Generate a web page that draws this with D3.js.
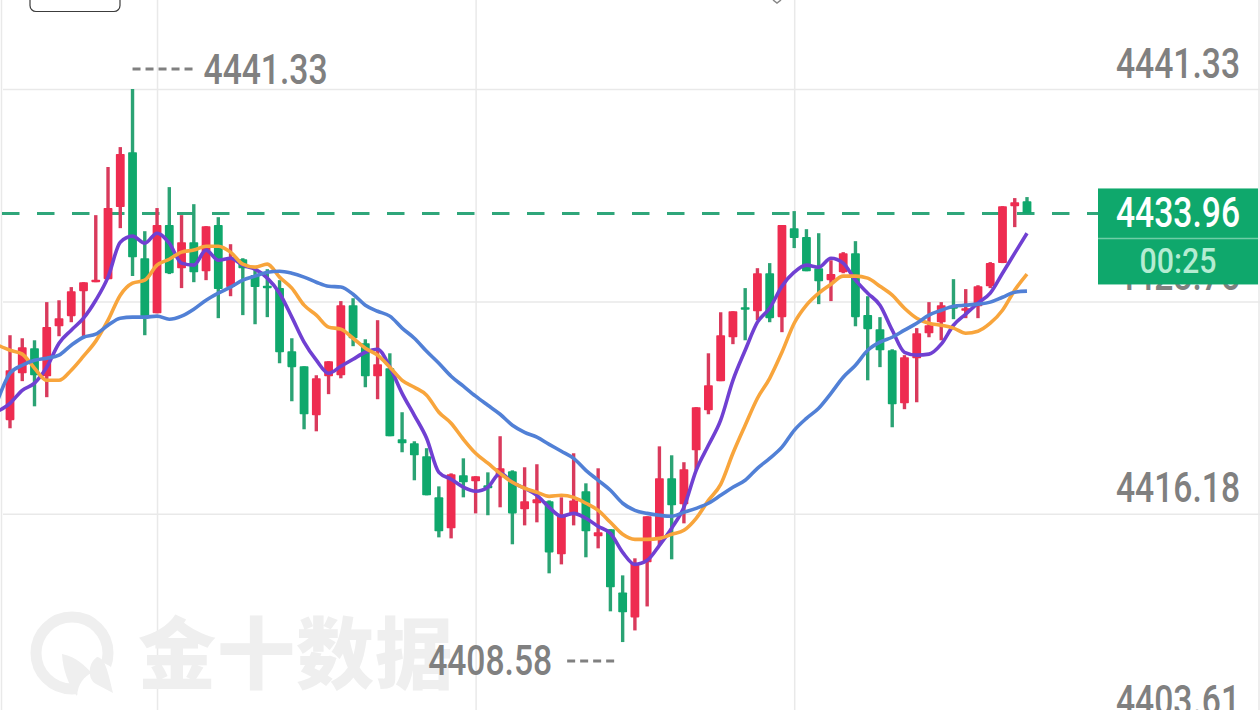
<!DOCTYPE html>
<html>
<head>
<meta charset="utf-8" />
<script src="https://cdn.jsdelivr.net/npm/d3@7"></script>
<style>
  html, body { margin: 0; padding: 0; background: #fff; overflow: hidden; }
</style>
</head>
<body>
<svg id="chart"></svg>
<script>
const opens = [4421.72,4424.50,4425.98,4424.32,4427.28,4427.88,4429.36,4429.92,4430.07,4434.34,4437.59,4431.31,4428.05,4433.27,4430.72,4432.26,4430.54,4433.27,4429.60,4431.25,4430.31,4429.68,4429.54,4425.80,4424.91,4422.01,4424.32,4424.38,4428.53,4426.28,4424.32,4424.80,4420.59,4420.35,4419.58,4417.15,4415.32,4418.46,4418.10,4417.86,4418.34,4418.69,4416.44,4416.80,4416.92,4413.78,4416.09,4417.51,4414.84,4415.26,4411.52,4410.04,4413.30,4414.78,4418.28,4416.74,4419.94,4422.31,4424.03,4426.63,4428.41,4428.17,4430.42,4427.82,4433.09,4432.56,4430.72,4430.01,4430.48,4431.61,4427.94,4427.11,4425.86,4422.72,4425.39,4426.87,4427.52,4428.47,4428.23,4428.47,4429.65,4431.02,4434.39,4434.69];
const highs = [4426.75,4426.57,4426.45,4428.71,4428.82,4429.60,4429.89,4433.86,4436.71,4437.89,4441.33,4432.91,4434.28,4435.52,4433.86,4434.51,4433.21,4433.74,4432.14,4431.31,4430.72,4430.66,4430.01,4426.57,4424.91,4424.38,4425.21,4428.77,4428.94,4426.51,4427.64,4425.68,4422.19,4420.47,4420.06,4417.80,4418.57,4419.46,4418.40,4418.63,4420.77,4418.75,4418.93,4419.11,4416.97,4417.15,4419.76,4417.98,4418.87,4415.26,4412.53,4413.54,4416.03,4420.17,4419.64,4419.23,4422.49,4425.68,4428.11,4428.17,4429.54,4430.72,4431.02,4433.27,4434.10,4433.03,4432.79,4431.19,4431.67,4432.32,4429.06,4427.82,4425.92,4425.57,4427.17,4428.71,4428.71,4430.07,4429.48,4429.71,4431.08,4434.39,4434.87,4434.93];
const lows = [4421.24,4424.03,4422.54,4423.08,4426.69,4427.52,4426.63,4429.89,4430.07,4433.09,4430.25,4426.75,4428.05,4430.37,4429.54,4429.89,4430.01,4427.76,4429.06,4427.94,4427.40,4427.82,4425.09,4422.84,4421.18,4421.06,4423.26,4424.20,4426.10,4423.67,4422.96,4420.77,4419.82,4418.16,4417.27,4414.78,4414.72,4417.15,4416.20,4416.09,4416.56,4414.37,4415.49,4415.67,4412.65,4413.18,4415.49,4413.60,4414.13,4410.40,4408.58,4409.27,4410.69,4414.31,4413.48,4415.61,4418.75,4422.07,4424.03,4426.22,4426.45,4427.64,4427.52,4426.93,4431.91,4430.54,4428.59,4428.77,4430.42,4427.28,4424.08,4424.86,4421.30,4422.37,4422.78,4426.63,4426.45,4427.70,4427.76,4427.76,4429.54,4431.02,4433.15,4433.96];
const closes = [4424.68,4426.04,4424.38,4427.23,4427.76,4429.36,4429.89,4430.04,4434.28,4437.48,4431.37,4427.88,4433.27,4430.42,4432.26,4430.48,4433.21,4429.48,4431.37,4430.72,4429.60,4429.54,4425.74,4424.86,4422.07,4424.20,4425.21,4428.53,4426.57,4424.32,4425.03,4420.77,4420.35,4419.64,4417.27,4415.14,4418.52,4418.04,4418.40,4417.69,4418.87,4416.20,4416.92,4417.03,4413.89,4416.09,4416.97,4415.14,4415.08,4411.82,4410.34,4413.24,4416.03,4418.28,4416.68,4418.81,4422.49,4423.79,4426.75,4428.17,4428.29,4430.42,4427.76,4433.27,4432.50,4430.54,4429.95,4430.37,4431.61,4427.82,4427.11,4425.86,4422.66,4425.45,4426.87,4427.34,4428.53,4428.41,4428.35,4429.65,4431.02,4434.39,4434.63,4433.96];

// moving averages start one bar before the first visible candle
const maFast = [4422.25,4422.72,4423.49,4423.91,4424.86,4426.28,4427.05,4427.76,4428.82,4430.19,4432.26,4432.62,4432.20,4432.79,4432.20,4431.02,4430.90,4431.79,4431.19,4431.31,4430.90,4430.66,4430.13,4429.24,4427.82,4426.34,4425.27,4424.50,4424.91,4425.33,4425.74,4425.92,4424.86,4423.31,4422.01,4420.65,4418.63,4418.22,4417.75,4417.51,4417.75,4418.57,4418.04,4417.69,4417.27,4416.56,4416.03,4416.20,4415.91,4415.43,4415.02,4413.89,4413.18,4413.42,4414.31,4415.32,4416.56,4418.75,4420.23,4421.72,4424.08,4425.86,4427.52,4428.35,4429.65,4430.48,4430.90,4430.78,4431.31,4431.02,4430.01,4429.24,4428.53,4427.05,4425.74,4425.57,4425.63,4426.22,4427.34,4428.00,4428.65,4429.24,4430.42,4431.61,4432.79];
const maMid = [4426.16,4425.86,4425.63,4424.80,4424.08,4424.08,4424.68,4425.51,4426.40,4427.64,4429.12,4429.83,4430.01,4430.90,4431.25,4431.67,4431.79,4432.02,4432.02,4431.67,4430.96,4430.78,4430.96,4430.19,4429.54,4428.53,4427.94,4427.23,4427.11,4426.57,4425.98,4425.57,4424.86,4424.08,4423.67,4423.20,4422.19,4421.54,4420.59,4419.76,4419.17,4418.57,4418.04,4417.69,4417.45,4417.21,4417.27,4417.15,4416.80,4416.38,4415.67,4414.96,4414.66,4414.66,4414.72,4414.96,4415.20,4415.91,4416.97,4417.92,4419.76,4421.42,4423.02,4424.20,4425.74,4427.46,4428.53,4429.24,4429.77,4430.25,4430.25,4430.13,4429.65,4429.12,4428.35,4427.76,4427.46,4427.34,4427.17,4426.87,4426.99,4427.46,4428.23,4429.42,4430.37];
const maSlow = [4422.90,4424.50,4424.97,4425.27,4425.39,4425.57,4426.16,4426.63,4426.81,4427.34,4427.76,4427.82,4427.82,4427.88,4427.70,4427.88,4428.29,4428.82,4429.24,4429.60,4430.01,4430.25,4430.48,4430.54,4430.42,4430.19,4429.89,4429.65,4429.60,4429.18,4428.53,4428.17,4427.88,4427.17,4426.57,4425.80,4425.09,4424.32,4423.73,4423.14,4422.60,4422.07,4421.42,4421.00,4420.71,4420.29,4419.88,4419.46,4418.75,4418.16,4417.57,4416.80,4416.38,4416.20,4416.09,4416.03,4416.26,4416.50,4416.80,4417.27,4417.75,4418.16,4418.87,4419.46,4420.12,4421.12,4421.83,4422.43,4423.31,4424.26,4424.97,4425.86,4426.34,4426.63,4427.05,4427.46,4427.94,4428.23,4428.47,4428.53,4428.59,4428.71,4429.00,4429.30,4429.36];

const priceTicks = [4441.33, 4428.75, 4416.18, 4403.61];
const timeTicks = [12, 38, 64];
const lastPrice = 4433.96;
const countdown = "00:25";
const watermark = "金十数据";

const width = 1260;
const height = 710;
const green = "#0fa86c";
const greenWick = "#2ba374";
const red = "#ee2c50";
const redWick = "#d93a5c";
const labelGray = "#808080";
const gridGray = "#e9e9e9";
const labelFont = "Roboto, sans-serif";

const svg = d3
  .select("#chart")
  .attr("width", width)
  .attr("height", height)
  .attr("viewBox", [0, 0, width, height])
  .style("display", "block")
  .attr("font-family", labelFont);

const x = d3.scaleLinear().domain([0, 83]).range([10, 1027]);
const y = d3.scaleLinear().domain([4441.33, 4403.61]).range([89, 726]);
const fmt = d3.format(".2f");

// squeeze a price label to the narrow width the app uses
const priceText = (sel) =>
  sel
    .attr("font-family", labelFont)
    .attr("font-size", 42)
    .attr("font-weight", 500)
    .attr("textLength", 124)
    .attr("lengthAdjust", "spacingAndGlyphs");

// frame
svg
  .append("g")
  .attr("stroke", gridGray)
  .attr("stroke-width", 1.5)
  .selectAll("line")
  .data([1.5, 1259])
  .join("line")
  .attr("x1", (d) => d)
  .attr("x2", (d) => d)
  .attr("y1", 0)
  .attr("y2", height);

// vertical grid
const xGrid = svg
  .append("g")
  .attr("transform", `translate(0,${height})`)
  .call(d3.axisBottom(x).tickValues(timeTicks).tickSize(-height).tickFormat(""));
xGrid.select(".domain").remove();
xGrid.selectAll("line").attr("stroke", gridGray).attr("stroke-width", 1.5);

// watermark
const mark = svg.append("g").attr("fill", "#efefef");
mark
  .append("circle")
  .attr("cx", 72)
  .attr("cy", 653)
  .attr("r", 36)
  .attr("fill", "none")
  .attr("stroke", "#efefef")
  .attr("stroke-width", 11);
mark.append("circle").attr("cx", 97).attr("cy", 684).attr("r", 22).attr("fill", "#fff");
mark.append("path").attr("d", "M62 654 C78 657 86 668 92 673 C84 676 78 684 77 696 C68 684 63 670 62 654Z");
mark.append("path").attr("d", "M97 681 C104 682 107 690 113 717 L96 708 C88 704 87 688 97 681Z").attr("transform", "translate(0,-24)");
mark
  .append("text")
  .attr("x", 138)
  .attr("y", 683)
  .attr("font-family", "'Noto Sans CJK SC'")
  .attr("font-weight", 900)
  .attr("font-size", 78)
  .attr("letter-spacing", 1)
  .text(watermark);

// horizontal grid + price labels
const yAxis = svg
  .append("g")
  .attr("transform", `translate(${width},0)`)
  .call(d3.axisLeft(y).tickValues(priceTicks).tickSize(width - 3).tickFormat(fmt));
yAxis.select(".domain").remove();
yAxis.selectAll("line").attr("stroke", gridGray).attr("stroke-width", 1.5);
yAxis
  .selectAll("text")
  .attr("x", -20)
  .attr("dy", -12)
  .attr("text-anchor", "end")
  .attr("fill", labelGray)
  .call(priceText);

// last price line, behind the candles
svg
  .append("line")
  .attr("x1", 2)
  .attr("x2", 1098)
  .attr("y1", y(lastPrice))
  .attr("y2", y(lastPrice))
  .attr("stroke", "#2fa67a")
  .attr("stroke-width", 3)
  .attr("stroke-dasharray", "17.5 17.5");

// candles
const candles = d3.range(opens.length);
const candle = svg.append("g").selectAll("g").data(candles).join("g");
candle
  .append("line")
  .attr("x1", (i) => x(i))
  .attr("x2", (i) => x(i))
  .attr("y1", (i) => y(highs[i]))
  .attr("y2", (i) => y(lows[i]))
  .attr("stroke", (i) => (closes[i] >= opens[i] ? redWick : greenWick))
  .attr("stroke-width", 3.4);
candle
  .append("rect")
  .attr("x", (i) => x(i) - 4.4)
  .attr("width", 8.8)
  .attr("y", (i) => y(Math.max(opens[i], closes[i])))
  .attr("height", (i) => Math.max(2.5, Math.abs(y(opens[i]) - y(closes[i]))))
  .attr("rx", 0.8)
  .attr("fill", (i) => (closes[i] >= opens[i] ? red : green));

// moving averages
const maLine = d3
  .line()
  .x((d, i) => x(i - 1))
  .y((d) => y(d))
  .curve(d3.curveMonotoneX);
svg
  .append("g")
  .attr("fill", "none")
  .attr("stroke-width", 3.6)
  .attr("stroke-linejoin", "round")
  .selectAll("path")
  .data([
    { values: maFast, color: "#7040d2" },
    { values: maMid, color: "#f8a53c" },
    { values: maSlow, color: "#5180d6" },
  ])
  .join("path")
  .attr("stroke", (d) => d.color)
  .attr("d", (d) => maLine(d.values));

// session high and low callouts
const hiIndex = d3.maxIndex(highs);
const loIndex = d3.minIndex(lows);
const callouts = svg.append("g").attr("fill", labelGray);
callouts
  .append("line")
  .attr("x1", x(hiIndex))
  .attr("x2", x(hiIndex) + 65)
  .attr("y1", y(highs[hiIndex]) - 20)
  .attr("y2", y(highs[hiIndex]) - 20);
callouts
  .append("text")
  .attr("x", x(hiIndex) + 71)
  .attr("y", y(highs[hiIndex]) - 5)
  .text(fmt(highs[hiIndex]));
callouts
  .append("line")
  .attr("x1", x(loIndex) - 55.5)
  .attr("x2", x(loIndex) - 5)
  .attr("y1", y(lows[loIndex]) + 19)
  .attr("y2", y(lows[loIndex]) + 19);
callouts
  .append("text")
  .attr("x", x(loIndex) - 194.5)
  .attr("y", y(lows[loIndex]) + 33)
  .text(fmt(lows[loIndex]));
callouts
  .selectAll("line")
  .attr("stroke", labelGray)
  .attr("stroke-width", 3)
  .attr("stroke-dasharray", "8 5");
callouts.selectAll("text").call(priceText);

// last price tag
const tag = svg.append("g");
tag
  .append("rect")
  .attr("x", 1098)
  .attr("y", y(lastPrice) - 25)
  .attr("width", 160)
  .attr("height", 96)
  .attr("fill", green);
tag
  .append("line")
  .attr("x1", 1098)
  .attr("x2", 1258)
  .attr("y1", y(lastPrice) + 25)
  .attr("y2", y(lastPrice) + 25)
  .attr("stroke", "#6fcda6")
  .attr("stroke-width", 1.5);
tag
  .append("text")
  .attr("x", 1240)
  .attr("y", y(lastPrice) + 14)
  .attr("text-anchor", "end")
  .attr("fill", "#fff")
  .call(priceText)
  .text(fmt(lastPrice));
tag
  .append("text")
  .attr("x", 1178)
  .attr("y", y(lastPrice) + 60)
  .attr("text-anchor", "middle")
  .attr("font-size", 35)
  .attr("font-weight", 500)
  .attr("textLength", 77)
  .attr("lengthAdjust", "spacingAndGlyphs")
  .attr("fill", "#b4ecd2")
  .text(countdown);

// remains of the toolbar cut off at the top edge
svg
  .append("rect")
  .attr("x", 30)
  .attr("y", -20)
  .attr("width", 90)
  .attr("height", 31.5)
  .attr("rx", 6)
  .attr("fill", "none")
  .attr("stroke", "#3c3c3c")
  .attr("stroke-width", 1.2);
svg
  .append("path")
  .attr("d", "M773 0 L777 3 L781 0")
  .attr("fill", "none")
  .attr("stroke", "#888")
  .attr("stroke-width", 1.5);
</script>
</body>
</html>
